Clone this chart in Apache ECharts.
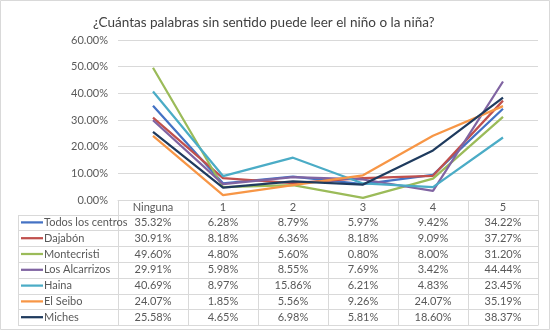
<!DOCTYPE html>
<html>
<head>
<meta charset="utf-8">
<script src="https://cdn.jsdelivr.net/npm/echarts@6/dist/echarts.min.js"></script>
<style>html,body{margin:0;padding:0;background:#fff;}#c{width:550px;height:330px;}</style>
</head>
<body>
<div id="c"></div>
<script>
const titleText = '¿Cuántas palabras sin sentido puede leer el niño o la niña?';
const categories = ['Ninguna', '1', '2', '3', '4', '5'];
const yTicks = [0, 10, 20, 30, 40, 50, 60];
const seriesNames = ['Todos los centros', 'Dajabón', 'Montecristi', 'Los Alcarrizos', 'Haina', 'El Seibo', 'Miches'];
const todosLosCentros = [35.32, 6.28, 8.79, 5.97, 9.42, 34.22];
const dajabon = [30.91, 8.18, 6.36, 8.18, 9.09, 37.27];
const montecristi = [49.60, 4.80, 5.60, 0.80, 8.00, 31.20];
const losAlcarrizos = [29.91, 5.98, 8.55, 7.69, 3.42, 44.44];
const haina = [40.69, 8.97, 15.86, 6.21, 4.83, 23.45];
const elSeibo = [24.07, 1.85, 5.56, 9.26, 24.07, 35.19];
const miches = [25.58, 4.65, 6.98, 5.81, 18.60, 38.37];
const colors = ['#4472C4', '#C0504D', '#9BBB59', '#8064A2', '#4BACC6', '#F79646', '#1F3B5E'];

const allData = [todosLosCentros, dajabon, montecristi, losAlcarrizos, haina, elSeibo, miches];
const FONT = 'Lato, "Open Sans", sans-serif';
const TXT = '#595959';
const GRID = '#D9D9D9';

const chart = echarts.init(document.getElementById('c'), null, {renderer: 'canvas'});

const option = {
  animation: false,
  backgroundColor: '#fff',
  title: {
    text: titleText,
    left: 88, top: 11,
    textStyle: {fontFamily: FONT, fontSize: 13.5, fontWeight: 'normal', color: '#404040'}
  },
  grid: {left: 118, right: 12, top: 40, bottom: 130, containLabel: false},
  xAxis: {
    type: 'category',
    data: categories,
    boundaryGap: true,
    axisLine: {show: true, lineStyle: {color: GRID, width: 1}},
    axisTick: {show: false},
    axisLabel: {color: TXT, fontFamily: FONT, fontSize: 11, margin: 2, interval: 0}
  },
  yAxis: {
    type: 'value',
    min: yTicks[0], max: yTicks[yTicks.length - 1], interval: 10,
    axisLine: {show: false},
    axisTick: {show: false},
    splitLine: {lineStyle: {color: GRID, width: 1}},
    axisLabel: {color: TXT, fontFamily: FONT, fontSize: 11, margin: 10,
      formatter: v => v.toFixed(2) + '%'}
  },
  series: seriesNames.map((n, i) => ({
    name: n, type: 'line', data: allData[i], symbol: 'none',
    lineStyle: {color: colors[i], width: 2.25},
    itemStyle: {color: colors[i]}
  }))
};
chart.setOption(option);

// Data table below the plot, aligned with the category axis
const centers = categories.map(c => chart.convertToPixel({xAxisIndex: 0}, c));
const band = centers[1] - centers[0];
const colEdges = [centers[0] - band / 2].concat(centers.map(c => c + band / 2));
const axisY = chart.convertToPixel({yAxisIndex: 0}, 0);
const tableLeft = 18;
const headerH = 14.5;
const rowH = 15.8;
const firstRowTop = axisY + headerH;
const graphics = [];
const ln = (x1, y1, x2, y2) => ({type: 'line', shape: {x1, y1, x2, y2}, style: {stroke: GRID, lineWidth: 1}, silent: true});

// horizontal lines
for (let r = 0; r <= seriesNames.length; r++) {
  const y = Math.round(firstRowTop + r * rowH) + 0.5;
  graphics.push(ln(tableLeft, y, colEdges[colEdges.length - 1], y));
}
const bottomY = Math.round(firstRowTop + seriesNames.length * rowH) + 0.5;
// vertical lines
graphics.push(ln(tableLeft + 0.5, Math.round(firstRowTop) + 0.5, tableLeft + 0.5, bottomY));
colEdges.forEach(x => {
  const xx = Math.round(x) + 0.5;
  graphics.push(ln(xx, axisY, xx, bottomY));
});
// rows
seriesNames.forEach((n, r) => {
  const cy = firstRowTop + r * rowH + rowH / 2;
  graphics.push({type: 'line', shape: {x1: 21, y1: cy, x2: 43, y2: cy}, style: {stroke: colors[r], lineWidth: 2.25}, silent: true});
  graphics.push({type: 'text', x: 44, y: cy, style: {text: n, fill: TXT, font: '11px ' + FONT, textAlign: 'left', textVerticalAlign: 'middle'}, silent: true});
  allData[r].forEach((v, c) => {
    graphics.push({type: 'text', x: centers[c], y: cy, style: {text: v.toFixed(2) + '%', fill: TXT, font: '11px ' + FONT, textAlign: 'center', textVerticalAlign: 'middle'}, silent: true});
  });
});
// outer border
graphics.push({type: 'rect', shape: {x: 0.5, y: 0.5, width: 549, height: 329}, style: {fill: 'none', stroke: GRID, lineWidth: 1}, silent: true});

chart.setOption({graphic: graphics});
</script>
</body>
</html>
